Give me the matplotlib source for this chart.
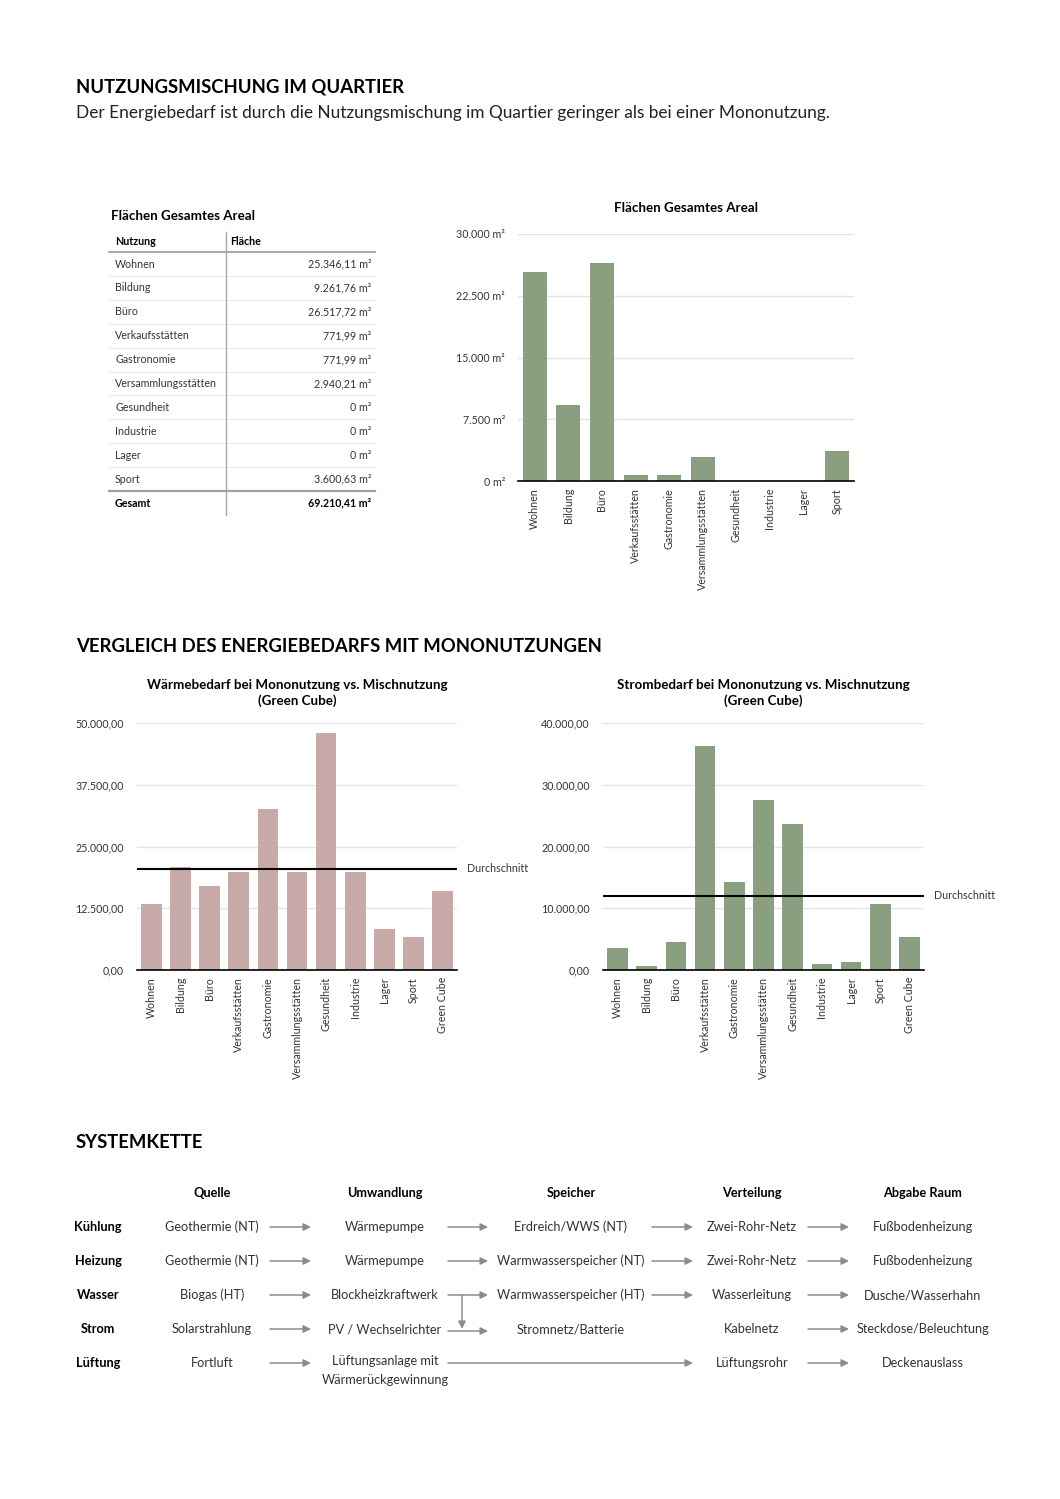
import matplotlib.pyplot as plt
from matplotlib.ticker import FuncFormatter

plt.rcParams['font.family'] = ['Lato', 'DejaVu Sans']

W, H = 1060, 1499

GREEN = "#8a9e80"
PINK = "#c8aaa8"
GRID = "#e4e4e4"
ARROW = "#8c8c8c"

# ---------- Daten ----------
nutzungen = ["Wohnen", "Bildung", "Büro", "Verkaufsstätten", "Gastronomie",
             "Versammlungsstätten", "Gesundheit", "Industrie", "Lager", "Sport"]
flaechen = [25346.11, 9261.76, 26517.72, 771.99, 771.99,
            2940.21, 0, 0, 0, 3600.63]

vergleich = nutzungen + ["Green Cube"]
waermebedarf = [13300, 20900, 17000, 19850, 32600, 19850, 47900, 19850, 8200, 6700, 15950]
waerme_schnitt = 20450
strombedarf = [3500, 650, 4470, 36200, 14270, 27500, 23600, 1020, 1300, 10660, 5380]
strom_schnitt = 12050

kette_spalten = ["Quelle", "Umwandlung", "Speicher", "Verteilung", "Abgabe Raum"]
kette_zeilen = ["Kühlung", "Heizung", "Wasser", "Strom", "Lüftung"]
kette = [
    ["Geothermie (NT)", "Wärmepumpe", "Erdreich/WWS (NT)", "Zwei-Rohr-Netz", "Fußbodenheizung"],
    ["Geothermie (NT)", "Wärmepumpe", "Warmwasserspeicher (NT)", "Zwei-Rohr-Netz", "Fußbodenheizung"],
    ["Biogas (HT)", "Blockheizkraftwerk", "Warmwasserspeicher (HT)", "Wasserleitung", "Dusche/Wasserhahn"],
    ["Solarstrahlung", "PV / Wechselrichter", "Stromnetz/Batterie", "Kabelnetz", "Steckdose/Beleuchtung"],
    ["Fortluft", "Lüftungsanlage mit\nWärmerückgewinnung", "", "Lüftungsrohr", "Deckenauslass"],
]


def de_num(v, dec):
    s = f"{v:,.{dec}f}"
    return s.replace(",", "#").replace(".", ",").replace("#", ".")


def m2(v):
    return "0 m²" if v == 0 else de_num(v, 2) + " m²"


def add_ax(fig, l, t, r, b):
    return fig.add_axes([l / W, 1 - b / H, (r - l) / W, (b - t) / H])


def style_bar_ax(ax, cats, ymax, step, fmt):
    ax.set_xlim(-0.5, len(cats) - 0.5)
    ax.set_ylim(0, ymax)
    ax.set_yticks([i * step for i in range(int(ymax / step) + 1)])
    ax.yaxis.set_major_formatter(FuncFormatter(fmt))
    ax.set_xticks(range(len(cats)))
    ax.set_xticklabels(cats, rotation=90, fontsize=7.7, color="#333333")
    ax.tick_params(length=0, labelsize=7.7, labelcolor="#333333")
    ax.tick_params(axis="x", pad=5)
    ax.tick_params(axis="y", pad=9.5)
    for s in ["top", "right", "left"]:
        ax.spines[s].set_visible(False)
    ax.spines["bottom"].set_color("black")
    ax.spines["bottom"].set_linewidth(1.2)
    ax.grid(axis="y", color=GRID, linewidth=1)
    ax.set_axisbelow(True)


fig = plt.figure(figsize=(W / 100, H / 100), dpi=100)

# Leinwand für Texte, Tabelle und Systemkette (Pixelkoordinaten)
cv = fig.add_axes([0, 0, 1, 1])
cv.set_xlim(0, W)
cv.set_ylim(H, 0)
cv.axis("off")

# ---------- Kopf ----------
cv.text(76, 87, "NUTZUNGSMISCHUNG IM QUARTIER", fontsize=13.3, fontweight="bold", va="center")
cv.text(76, 113, "Der Energiebedarf ist durch die Nutzungsmischung im Quartier geringer als bei einer Mononutzung.",
        fontsize=12.4, va="center", color="#222222")

# ---------- Tabelle ----------
cv.text(111, 216, "Flächen Gesamtes Areal", fontsize=9.6, fontweight="bold", va="center")
cv.text(115, 241, "Nutzung", fontsize=7.7, fontweight="bold", va="center")
cv.text(230, 241, "Fläche", fontsize=7.7, fontweight="bold", va="center")
cv.plot([109, 375], [252, 252], color="#9a9a9a", lw=1.2)
row_h = 23.9
for i, (n, f) in enumerate(zip(nutzungen, flaechen)):
    y = 264 + i * row_h
    cv.text(115, y, n, fontsize=7.7, va="center", color="#333333")
    cv.text(371, y, m2(f), fontsize=7.7, va="center", ha="right", color="#333333")
    if i < len(nutzungen) - 1:
        cv.plot([109, 375], [y + row_h / 2, y + row_h / 2], color="#ececec", lw=0.8)
y_ges = 264 + len(nutzungen) * row_h
cv.plot([109, 375], [y_ges - 12, y_ges - 12], color="#a0a0a0", lw=1.6)
cv.text(115, y_ges, "Gesamt", fontsize=7.7, fontweight="bold", va="center")
cv.text(371, y_ges, m2(sum(flaechen)), fontsize=7.7, fontweight="bold", va="center", ha="right")
cv.plot([226, 226], [232, y_ges + 12], color="#a8a8a8", lw=1)

# ---------- Flächen-Diagramm ----------
ax1 = add_ax(fig, 518, 234, 854, 481)
ax1.bar(range(len(nutzungen)), flaechen, width=0.71, color=GREEN)
style_bar_ax(ax1, nutzungen, 30000, 7500, lambda v, p: de_num(v, 0) + " m²")
ax1.set_title("Flächen Gesamtes Areal", fontsize=9.6, fontweight="bold", pad=16)

# ---------- Vergleich ----------
cv.text(76, 646, "VERGLEICH DES ENERGIEBEDARFS MIT MONONUTZUNGEN", fontsize=13.3, fontweight="bold", va="center")

ax2 = add_ax(fig, 137, 723, 457, 970)
ax2.bar(range(len(vergleich)), waermebedarf, width=0.71, color=PINK)
style_bar_ax(ax2, vergleich, 50000, 12500, lambda v, p: de_num(v, 2))
ax2.axhline(waerme_schnitt, color="black", lw=1.5)
ax2.text(1.03, waerme_schnitt, "Durchschnitt", transform=ax2.get_yaxis_transform(),
         fontsize=7.7, va="center", color="#333333")
ax2.set_title("Wärmebedarf bei Mononutzung vs. Mischnutzung\n(Green Cube)",
              fontsize=9.6, fontweight="bold", pad=13, linespacing=1.3)

ax3 = add_ax(fig, 603, 723, 924, 970)
ax3.bar(range(len(vergleich)), strombedarf, width=0.71, color=GREEN)
style_bar_ax(ax3, vergleich, 40000, 10000, lambda v, p: de_num(v, 2))
ax3.axhline(strom_schnitt, color="black", lw=1.5)
ax3.text(1.03, strom_schnitt, "Durchschnitt", transform=ax3.get_yaxis_transform(),
         fontsize=7.7, va="center", color="#333333")
ax3.set_title("Strombedarf bei Mononutzung vs. Mischnutzung\n(Green Cube)",
              fontsize=9.6, fontweight="bold", pad=13, linespacing=1.3)

# ---------- Systemkette ----------
cv.text(76, 1142, "SYSTEMKETTE", fontsize=13.3, fontweight="bold", va="center")

col_x = [212, 385, 571, 752, 923]
row_y = [1227, 1261, 1295, 1329, 1363]
arrow_x = [(270, 311), (448, 488), (652, 693), (808, 849)]

for cx, name in zip(col_x, kette_spalten):
    cv.text(cx, 1193, name, fontsize=9.2, fontweight="bold", ha="center", va="center")


def arrow(x0, x1, y):
    cv.annotate("", xy=(x1, y), xytext=(x0, y),
                arrowprops=dict(arrowstyle="-|>", color=ARROW, lw=1.1,
                                mutation_scale=11, shrinkA=0, shrinkB=0))


for r, (lab, y) in enumerate(zip(kette_zeilen, row_y)):
    cv.text(98, y, lab, fontsize=9.2, fontweight="bold", ha="center", va="center")
    for c, txt in enumerate(kette[r]):
        if not txt:
            continue
        if "\n" in txt:
            cv.text(col_x[c], y - 8, txt, fontsize=9.2, ha="center", va="top",
                    color="#333333", linespacing=1.65)
        else:
            cv.text(col_x[c], y, txt, fontsize=9.2, ha="center", va="center", color="#333333")

    # Pfeile
    if lab == "Lüftung":
        arrow(*arrow_x[0], y)
        arrow(arrow_x[1][0], arrow_x[2][1], y)
        arrow(*arrow_x[3], y)
    elif lab == "Strom":
        arrow(*arrow_x[0], y)
        arrow(arrow_x[1][0], arrow_x[1][1], y + 2)
        arrow(*arrow_x[3], y)
    else:
        for ax_pair in arrow_x:
            arrow(*ax_pair, y)

# Abzweig Blockheizkraftwerk -> Strom
cv.annotate("", xy=(462, row_y[3]), xytext=(462, row_y[2]),
            arrowprops=dict(arrowstyle="-|>", color=ARROW, lw=1.1,
                            mutation_scale=11, shrinkA=0, shrinkB=0))

fig.savefig("out.png", dpi=100, facecolor="white")
